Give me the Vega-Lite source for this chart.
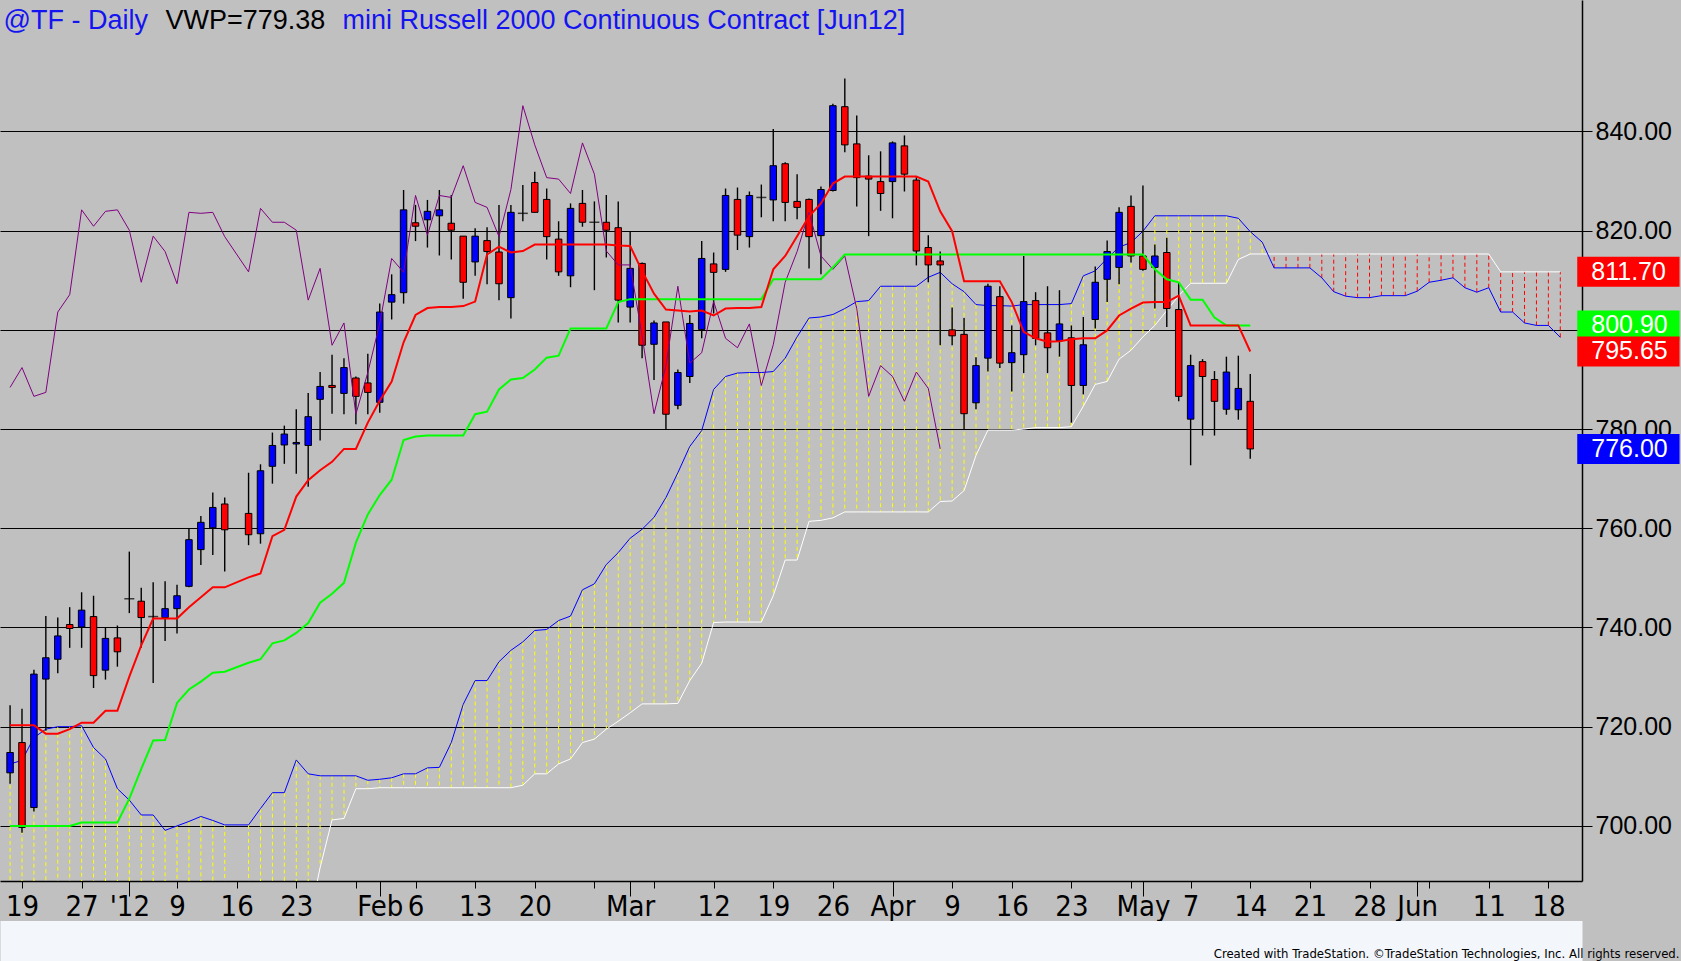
{
  "$schema": "https://vega.github.io/schema/vega-lite/v6.json",
  "width": 1582,
  "height": 881,
  "autosize": "none",
  "padding": {"left": 0, "top": 0, "right": 99, "bottom": 80},
  "background": "#C0C0C0",
  "config": {"view": {"stroke": null, "fill": "#C0C0C0"}, "font": "Liberation Sans"},
  "data": {
    "values": [
      {"i": -1, "o": 710.7, "h": 724.3, "l": 708.5, "c": 714.8, "tk": 720.3, "kj": 700.0, "ch": 788.4, "sa": 712.5, "sb": 680},
      {"i": 0, "o": 716.8, "h": 723.6, "l": 698.6, "c": 699.7, "tk": 720.3, "kj": 700.0, "ch": 792.4, "sa": 713.2, "sb": 680},
      {"i": 1, "o": 703.7, "h": 731.5, "l": 702.9, "c": 730.6, "tk": 720.3, "kj": 700.0, "ch": 786.6, "sa": 717.8, "sb": 680},
      {"i": 2, "o": 729.6, "h": 742.3, "l": 719.2, "c": 733.9, "tk": 718.6, "kj": 700.0, "ch": 787.4, "sa": 719.5, "sb": 680},
      {"i": 3, "o": 733.6, "h": 742.0, "l": 730.8, "c": 738.3, "tk": 718.6, "kj": 700.0, "ch": 803.6, "sa": 720.0, "sb": 680},
      {"i": 4, "o": 740.6, "h": 744.1, "l": 735.9, "c": 739.8, "tk": 719.5, "kj": 700.0, "ch": 807.1, "sa": 720.0, "sb": 680},
      {"i": 5, "o": 740.1, "h": 747.1, "l": 735.9, "c": 743.5, "tk": 720.8, "kj": 700.7, "ch": 824.2, "sa": 720.2, "sb": 680},
      {"i": 6, "o": 742.2, "h": 746.4, "l": 727.8, "c": 730.3, "tk": 720.8, "kj": 700.7, "ch": 820.9, "sa": 715.8, "sb": 680},
      {"i": 7, "o": 731.4, "h": 740.0, "l": 729.5, "c": 737.8, "tk": 723.2, "kj": 700.7, "ch": 823.9, "sa": 713.5, "sb": 680},
      {"i": 8, "o": 737.9, "h": 740.4, "l": 732.1, "c": 735.1, "tk": 723.2, "kj": 700.7, "ch": 824.2, "sa": 707.5, "sb": 680},
      {"i": 9, "o": 745.8, "h": 755.3, "l": 742.9, "c": 745.8, "tk": 730.1, "kj": 705.5, "ch": 820.1, "sa": 705.2, "sb": 680},
      {"i": 10, "o": 745.3, "h": 748.0, "l": 735.9, "c": 742.0, "tk": 736.4, "kj": 711.5, "ch": 809.6, "sa": 702.2, "sb": 680},
      {"i": 11, "o": 742.2, "h": 749.1, "l": 728.8, "c": 742.2, "tk": 741.8, "kj": 717.2, "ch": 818.9, "sa": 702.2, "sb": 680},
      {"i": 12, "o": 742.0, "h": 749.3, "l": 737.3, "c": 743.8, "tk": 741.8, "kj": 717.3, "ch": 815.8, "sa": 699.1, "sb": 680},
      {"i": 13, "o": 743.8, "h": 748.6, "l": 738.8, "c": 746.4, "tk": 741.8, "kj": 724.8, "ch": 809.3, "sa": 700.0, "sb": 680},
      {"i": 14, "o": 748.3, "h": 760.0, "l": 748.1, "c": 757.7, "tk": 744.1, "kj": 727.5, "ch": 823.7, "sa": 700.9, "sb": 680},
      {"i": 15, "o": 755.7, "h": 762.5, "l": 752.6, "c": 761.2, "tk": 746.1, "kj": 729.1, "ch": 823.5, "sa": 701.9, "sb": 680},
      {"i": 16, "o": 760.1, "h": 767.2, "l": 754.6, "c": 764.2, "tk": 748.1, "kj": 730.9, "ch": 823.7, "sa": 701.1, "sb": 680},
      {"i": 17, "o": 764.9, "h": 766.2, "l": 751.3, "c": 759.7, "tk": 748.1, "kj": 731.1, "ch": 818.8, "sa": 700.2, "sb": 680},
      {"i": 19, "o": 763.0, "h": 771.2, "l": 756.6, "c": 758.7, "tk": 750.1, "kj": 732.9, "ch": 811.7, "sa": 700.2, "sb": 680},
      {"i": 20, "o": 758.9, "h": 772.9, "l": 756.9, "c": 771.6, "tk": 750.9, "kj": 733.6, "ch": 824.5, "sa": 703.5, "sb": 680},
      {"i": 21, "o": 772.5, "h": 779.3, "l": 769.0, "c": 776.7, "tk": 758.4, "kj": 736.8, "ch": 821.7, "sa": 706.7, "sb": 680},
      {"i": 22, "o": 776.8, "h": 780.7, "l": 773.0, "c": 779.0, "tk": 759.7, "kj": 737.4, "ch": 821.7, "sa": 706.7, "sb": 680},
      {"i": 23, "o": 777.0, "h": 784.0, "l": 771.0, "c": 777.3, "tk": 766.4, "kj": 738.9, "ch": 820.1, "sa": 713.3, "sb": 680},
      {"i": 24, "o": 776.7, "h": 787.3, "l": 768.4, "c": 782.5, "tk": 769.7, "kj": 740.9, "ch": 806.0, "sa": 710.5, "sb": 680},
      {"i": 25, "o": 786.0, "h": 791.5, "l": 777.7, "c": 788.6, "tk": 771.7, "kj": 745.0, "ch": 812.4, "sa": 710.1, "sb": 691.6},
      {"i": 26, "o": 788.8, "h": 795.0, "l": 783.1, "c": 788.4, "tk": 773.4, "kj": 746.8, "ch": 796.9, "sa": 710.1, "sb": 701.2},
      {"i": 27, "o": 787.2, "h": 794.3, "l": 783.0, "c": 792.4, "tk": 776.0, "kj": 749.0, "ch": 801.4, "sa": 710.1, "sb": 701.5},
      {"i": 28, "o": 790.3, "h": 790.6, "l": 781.0, "c": 786.6, "tk": 776.0, "kj": 757.1, "ch": 783.0, "sa": 710.1, "sb": 707.5},
      {"i": 29, "o": 789.3, "h": 795.2, "l": 783.0, "c": 787.4, "tk": 781.3, "kj": 762.8, "ch": 791.4, "sa": 709.2, "sb": 707.5},
      {"i": 30, "o": 785.4, "h": 805.3, "l": 783.3, "c": 803.6, "tk": 785.7, "kj": 766.7, "ch": 801.3, "sa": 709.4, "sb": 707.7},
      {"i": 31, "o": 805.6, "h": 811.2, "l": 802.1, "c": 807.1, "tk": 789.6, "kj": 769.8, "ch": 814.4, "sa": 709.7, "sb": 707.7},
      {"i": 32, "o": 807.5, "h": 828.2, "l": 805.3, "c": 824.2, "tk": 797.5, "kj": 777.8, "ch": 811.6, "sa": 710.5, "sb": 707.7},
      {"i": 33, "o": 821.6, "h": 825.2, "l": 817.9, "c": 820.9, "tk": 803.0, "kj": 778.5, "ch": 827.1, "sa": 710.5, "sb": 707.7},
      {"i": 34, "o": 822.2, "h": 826.2, "l": 816.6, "c": 823.9, "tk": 804.4, "kj": 778.7, "ch": 819.1, "sa": 711.7, "sb": 707.7},
      {"i": 35, "o": 823.0, "h": 828.2, "l": 815.0, "c": 824.2, "tk": 804.6, "kj": 778.7, "ch": 827.1, "sa": 711.8, "sb": 707.7},
      {"i": 36, "o": 821.5, "h": 827.2, "l": 814.2, "c": 820.1, "tk": 804.6, "kj": 778.7, "ch": 826.7, "sa": 716.8, "sb": 707.7},
      {"i": 37, "o": 818.9, "h": 818.9, "l": 806.3, "c": 809.6, "tk": 804.8, "kj": 778.7, "ch": 833.1, "sa": 724.5, "sb": 707.7},
      {"i": 38, "o": 813.7, "h": 820.5, "l": 810.9, "c": 818.9, "tk": 805.7, "kj": 783.0, "ch": 825.7, "sa": 729.3, "sb": 707.7},
      {"i": 39, "o": 818.0, "h": 820.7, "l": 809.2, "c": 815.8, "tk": 815.2, "kj": 783.5, "ch": 824.7, "sa": 729.3, "sb": 707.7},
      {"i": 40, "o": 815.7, "h": 825.2, "l": 806.0, "c": 809.3, "tk": 816.8, "kj": 788.0, "ch": 818.8, "sa": 733.1, "sb": 707.7},
      {"i": 41, "o": 806.5, "h": 825.2, "l": 802.3, "c": 823.7, "tk": 815.6, "kj": 790.0, "ch": 828.3, "sa": 735.4, "sb": 707.7},
      {"i": 42, "o": 823.5, "h": 829.2, "l": 821.9, "c": 823.5, "tk": 815.9, "kj": 790.3, "ch": 845.2, "sa": 737.1, "sb": 708.2},
      {"i": 43, "o": 829.7, "h": 831.9, "l": 823.7, "c": 823.7, "tk": 817.2, "kj": 792.0, "ch": 837.3, "sa": 739.4, "sb": 710.5},
      {"i": 44, "o": 826.3, "h": 828.5, "l": 814.2, "c": 818.8, "tk": 817.2, "kj": 794.4, "ch": 830.7, "sa": 739.6, "sb": 710.5},
      {"i": 45, "o": 818.3, "h": 821.9, "l": 810.9, "c": 811.7, "tk": 817.2, "kj": 794.8, "ch": 830.4, "sa": 741.4, "sb": 712.5},
      {"i": 46, "o": 810.9, "h": 825.5, "l": 808.6, "c": 824.5, "tk": 817.2, "kj": 800.3, "ch": 827.5, "sa": 742.3, "sb": 713.5},
      {"i": 47, "o": 825.5, "h": 828.2, "l": 820.8, "c": 821.7, "tk": 817.2, "kj": 800.3, "ch": 837.7, "sa": 747.6, "sb": 716.8},
      {"i": 48, "o": 821.7, "h": 825.9, "l": 808.0, "c": 821.7, "tk": 817.2, "kj": 800.3, "ch": 831.4, "sa": 748.8, "sb": 717.5},
      {"i": 49, "o": 821.7, "h": 827.2, "l": 814.6, "c": 820.1, "tk": 817.2, "kj": 800.3, "ch": 815.9, "sa": 752.7, "sb": 719.5},
      {"i": 50, "o": 820.6, "h": 825.9, "l": 801.5, "c": 806.0, "tk": 817.0, "kj": 805.6, "ch": 813.1, "sa": 755.1, "sb": 721.1},
      {"i": 51, "o": 804.6, "h": 819.9, "l": 801.5, "c": 812.4, "tk": 816.9, "kj": 806.2, "ch": 813.1, "sa": 758.0, "sb": 722.8},
      {"i": 52, "o": 813.4, "h": 813.6, "l": 794.3, "c": 796.9, "tk": 811.9, "kj": 806.2, "ch": 798.8, "sa": 759.8, "sb": 724.6},
      {"i": 53, "o": 797.1, "h": 801.9, "l": 789.9, "c": 801.4, "tk": 807.3, "kj": 806.2, "ch": 783.1, "sa": 762.2, "sb": 724.6},
      {"i": 54, "o": 801.6, "h": 801.6, "l": 780.0, "c": 783.0, "tk": 804.1, "kj": 806.2, "ch": 792.8, "sa": 766.2, "sb": 724.6},
      {"i": 55, "o": 784.8, "h": 792.0, "l": 784.0, "c": 791.4, "tk": 803.9, "kj": 806.2, "ch": 808.8, "sa": 771.2, "sb": 724.7},
      {"i": 56, "o": 790.6, "h": 803.0, "l": 789.3, "c": 801.3, "tk": 803.7, "kj": 806.2, "ch": 793.3, "sa": 776.5, "sb": 729.3},
      {"i": 57, "o": 800.1, "h": 817.9, "l": 798.3, "c": 814.4, "tk": 803.9, "kj": 806.2, "ch": 795.4, "sa": 779.7, "sb": 732.8},
      {"i": 58, "o": 813.3, "h": 815.6, "l": 803.3, "c": 811.6, "tk": 802.9, "kj": 806.2, "ch": 805.7, "sa": 788.0, "sb": 741.0},
      {"i": 59, "o": 812.2, "h": 828.5, "l": 811.7, "c": 827.1, "tk": 804.3, "kj": 806.2, "ch": 798.3, "sa": 790.6, "sb": 741.1},
      {"i": 60, "o": 826.3, "h": 828.7, "l": 816.1, "c": 819.1, "tk": 804.4, "kj": 806.2, "ch": 796.4, "sa": 791.3, "sb": 741.1},
      {"i": 61, "o": 818.8, "h": 827.9, "l": 816.6, "c": 827.1, "tk": 804.4, "kj": 806.2, "ch": 801.2, "sa": 791.4, "sb": 741.1},
      {"i": 62, "o": 826.7, "h": 829.3, "l": 822.7, "c": 826.7, "tk": 804.6, "kj": 806.2, "ch": 788.8, "sa": 791.4, "sb": 741.1},
      {"i": 63, "o": 826.2, "h": 840.5, "l": 821.9, "c": 833.1, "tk": 812.2, "kj": 810.2, "ch": 797.0, "sa": 791.6, "sb": 746.4},
      {"i": 64, "o": 833.5, "h": 833.8, "l": 821.9, "c": 825.7, "tk": 814.9, "kj": 810.2, "ch": 809.6, "sa": 794.3, "sb": 753.6},
      {"i": 65, "o": 825.9, "h": 831.4, "l": 822.3, "c": 824.7, "tk": 818.9, "kj": 810.2, "ch": 815.8, "sa": 798.6, "sb": 753.6},
      {"i": 66, "o": 826.3, "h": 826.5, "l": 812.4, "c": 818.8, "tk": 822.9, "kj": 810.2, "ch": 823.7, "sa": 802.4, "sb": 761.4},
      {"i": 67, "o": 819.0, "h": 828.9, "l": 811.2, "c": 828.3, "tk": 825.5, "kj": 810.2, "ch": 814.9, "sa": 802.6, "sb": 761.6},
      {"i": 68, "o": 828.1, "h": 845.6, "l": 827.9, "c": 845.2, "tk": 829.5, "kj": 812.6, "ch": 812.2, "sa": 803.1, "sb": 762.1},
      {"i": 69, "o": 845.0, "h": 850.7, "l": 835.8, "c": 837.3, "tk": 830.9, "kj": 815.2, "ch": 814.9, "sa": 804.3, "sb": 763.3},
      {"i": 70, "o": 837.5, "h": 843.2, "l": 824.9, "c": 830.7, "tk": 830.9, "kj": 815.2, "ch": 804.3, "sa": 805.7, "sb": 763.3},
      {"i": 71, "o": 831.0, "h": 835.2, "l": 818.9, "c": 830.4, "tk": 830.9, "kj": 815.2, "ch": 786.6, "sa": 805.9, "sb": 763.3},
      {"i": 72, "o": 829.9, "h": 836.0, "l": 824.0, "c": 827.5, "tk": 830.9, "kj": 815.2, "ch": 792.8, "sa": 808.8, "sb": 763.3},
      {"i": 73, "o": 829.9, "h": 838.0, "l": 822.5, "c": 837.7, "tk": 830.9, "kj": 815.2, "ch": 790.6, "sa": 808.8, "sb": 763.3},
      {"i": 74, "o": 837.1, "h": 839.2, "l": 827.9, "c": 831.4, "tk": 830.9, "kj": 815.2, "ch": 785.6, "sa": 808.8, "sb": 763.3},
      {"i": 75, "o": 830.2, "h": 830.9, "l": 813.0, "c": 815.9, "tk": 830.9, "kj": 815.2, "ch": 791.5, "sa": 808.8, "sb": 763.3},
      {"i": 76, "o": 816.6, "h": 819.1, "l": 809.6, "c": 813.1, "tk": 829.9, "kj": 815.2, "ch": 788.2, "sa": 810.6, "sb": 763.3},
      {"i": 77, "o": 813.9, "h": 815.8, "l": 796.9, "c": 813.1, "tk": 823.9, "kj": 815.2, "ch": 776.0, "sa": 811.6, "sb": 765.4},
      {"i": 78, "o": 800.0, "h": 804.5, "l": 796.9, "c": 798.8, "tk": 819.9, "kj": 815.2, "sa": 809.3, "sb": 765.5},
      {"i": 79, "o": 799.1, "h": 802.4, "l": 780.0, "c": 783.1, "tk": 809.8, "kj": 815.2, "sa": 807.7, "sb": 767.6},
      {"i": 80, "o": 785.3, "h": 794.5, "l": 784.0, "c": 792.8, "tk": 809.8, "kj": 815.2, "sa": 805.1, "sb": 774.7},
      {"i": 81, "o": 794.3, "h": 809.3, "l": 791.6, "c": 808.8, "tk": 809.8, "kj": 815.2, "sa": 804.9, "sb": 779.8},
      {"i": 82, "o": 806.7, "h": 808.8, "l": 792.3, "c": 793.3, "tk": 809.8, "kj": 815.2, "sa": 804.9, "sb": 779.8},
      {"i": 83, "o": 793.4, "h": 800.9, "l": 787.6, "c": 795.4, "tk": 805.6, "kj": 815.2, "sa": 804.8, "sb": 779.8},
      {"i": 84, "o": 795.0, "h": 814.9, "l": 791.3, "c": 805.7, "tk": 799.6, "kj": 815.2, "sa": 805.1, "sb": 780.0},
      {"i": 85, "o": 805.9, "h": 807.6, "l": 796.9, "c": 798.3, "tk": 798.3, "kj": 815.2, "sa": 805.1, "sb": 780.3},
      {"i": 86, "o": 799.4, "h": 808.8, "l": 791.3, "c": 796.4, "tk": 797.6, "kj": 815.2, "sa": 805.1, "sb": 780.3},
      {"i": 87, "o": 797.8, "h": 808.0, "l": 794.6, "c": 801.2, "tk": 797.7, "kj": 815.2, "sa": 805.1, "sb": 780.3},
      {"i": 88, "o": 798.4, "h": 800.9, "l": 781.3, "c": 788.8, "tk": 798.1, "kj": 815.2, "sa": 805.3, "sb": 780.5},
      {"i": 89, "o": 788.8, "h": 802.6, "l": 787.0, "c": 797.0, "tk": 798.3, "kj": 815.2, "sa": 810.9, "sb": 784.6},
      {"i": 90, "o": 802.1, "h": 812.8, "l": 800.3, "c": 809.6, "tk": 798.3, "kj": 815.2, "sa": 811.9, "sb": 789.0},
      {"i": 91, "o": 810.2, "h": 818.0, "l": 805.6, "c": 815.8, "tk": 799.9, "kj": 815.2, "sa": 814.4, "sb": 789.6},
      {"i": 92, "o": 812.6, "h": 824.7, "l": 809.2, "c": 823.7, "tk": 802.9, "kj": 815.2, "sa": 816.7, "sb": 794.1},
      {"i": 93, "o": 824.9, "h": 827.1, "l": 813.6, "c": 814.9, "tk": 804.3, "kj": 815.2, "sa": 817.6, "sb": 795.9},
      {"i": 94, "o": 814.9, "h": 829.1, "l": 811.9, "c": 812.2, "tk": 805.5, "kj": 815.2, "sa": 819.9, "sb": 798.6},
      {"i": 95, "o": 812.6, "h": 817.2, "l": 804.3, "c": 814.9, "tk": 805.6, "kj": 812.2, "sa": 823.0, "sb": 800.9},
      {"i": 96, "o": 815.6, "h": 818.6, "l": 800.6, "c": 804.3, "tk": 805.6, "kj": 810.2, "sa": 823.0, "sb": 803.9},
      {"i": 97, "o": 804.1, "h": 809.6, "l": 785.6, "c": 786.6, "tk": 806.9, "kj": 809.6, "sa": 823.0, "sb": 806.9},
      {"i": 98, "o": 782.0, "h": 795.0, "l": 772.7, "c": 792.8, "tk": 800.9, "kj": 806.1, "sa": 823.0, "sb": 809.4},
      {"i": 99, "o": 793.6, "h": 794.1, "l": 778.7, "c": 790.6, "tk": 800.9, "kj": 806.1, "sa": 823.0, "sb": 809.4},
      {"i": 100, "o": 790.0, "h": 791.7, "l": 778.7, "c": 785.6, "tk": 800.9, "kj": 802.5, "sa": 823.0, "sb": 809.4},
      {"i": 101, "o": 784.0, "h": 794.6, "l": 782.9, "c": 791.5, "tk": 800.9, "kj": 800.9, "sa": 823.0, "sb": 809.4},
      {"i": 102, "o": 783.9, "h": 794.8, "l": 781.9, "c": 788.2, "tk": 800.9, "kj": 800.9, "sa": 822.5, "sb": 814.2},
      {"i": 103, "o": 785.6, "h": 791.1, "l": 774.0, "c": 776.0, "tk": 795.65, "kj": 800.9, "sa": 819.8, "sb": 815.3},
      {"i": 104, "sa": 817.7, "sb": 815.3},
      {"i": 105, "sa": 812.5, "sb": 815.3},
      {"i": 106, "sa": 812.5, "sb": 815.3},
      {"i": 107, "sa": 812.5, "sb": 815.3},
      {"i": 108, "sa": 812.5, "sb": 815.3},
      {"i": 109, "sa": 810.5, "sb": 815.3},
      {"i": 110, "sa": 807.7, "sb": 815.3},
      {"i": 111, "sa": 806.8, "sb": 815.3},
      {"i": 112, "sa": 806.5, "sb": 815.3},
      {"i": 113, "sa": 806.5, "sb": 815.3},
      {"i": 114, "sa": 806.9, "sb": 815.3},
      {"i": 115, "sa": 806.9, "sb": 815.3},
      {"i": 116, "sa": 806.9, "sb": 815.3},
      {"i": 117, "sa": 807.8, "sb": 815.3},
      {"i": 118, "sa": 809.6, "sb": 815.3},
      {"i": 119, "sa": 810.0, "sb": 815.3},
      {"i": 120, "sa": 810.5, "sb": 815.3},
      {"i": 121, "sa": 808.5, "sb": 815.3},
      {"i": 122, "sa": 807.6, "sb": 815.3},
      {"i": 123, "sa": 808.5, "sb": 815.3},
      {"i": 124, "sa": 803.6, "sb": 811.7},
      {"i": 125, "sa": 803.6, "sb": 811.7},
      {"i": 126, "sa": 801.4, "sb": 811.7},
      {"i": 127, "sa": 800.9, "sb": 811.7},
      {"i": 128, "sa": 800.9, "sb": 811.7},
      {"i": 129, "sa": 798.5, "sb": 811.7}
    ]
  },
  "resolve": {"axis": {"x": "independent", "y": "independent"}},
  "layer": [
    {
      "mark": {"type": "rule", "strokeWidth": 1, "strokeDash": [4, 3], "clip": true},
      "encoding": {
        "x": {"field": "i", "type": "quantitative", "scale": {"domain": [-1.425, 130.4], "nice": false, "zero": false}, "axis": null},
        "y": {"field": "sa", "type": "quantitative", "scale": {"domain": [689.9, 865.5], "nice": false, "zero": false},
          "axis": {"orient": "right", "values": [700, 720, 740, 760, 780, 800, 820, 840], "format": ".2f", "grid": true, "gridColor": "#000000", "gridWidth": 1, "gridOpacity": 1, "domainColor": "#000000", "domainWidth": 1.5, "tickColor": "#000000", "tickSize": 10, "tickWidth": 1, "labelFont": "Liberation Sans", "labelFontSize": 25, "labelColor": "#000000", "labelPadding": 3, "labelBaseline": "middle", "labelAlign": "left", "title": null}},
        "y2": {"field": "sb"},
        "color": {"condition": {"test": "datum.sa >= datum.sb", "value": "#FFFF00"}, "value": "#FF0000"}
      }
    },
    {
      "transform": [{"filter": "isValid(datum.sb)"}],
      "mark": {"type": "line", "strokeWidth": 1, "color": "#FFFFFF", "clip": true},
      "encoding": {
        "x": {"field": "i", "type": "quantitative",
          "axis": {"orient": "top", "domain": false, "ticks": false, "labels": false, "grid": false, "title": "VWP=779.38", "titleX": 165, "titleY": 28, "titleAlign": "left", "titleAnchor": null, "titleBaseline": "alphabetic", "titleFont": "Liberation Sans", "titleFontSize": 27, "titleFontWeight": "normal", "titleColor": "#000000"}},
        "y": {"field": "sb", "type": "quantitative", "axis": null}
      }
    },
    {
      "transform": [{"filter": "isValid(datum.sa)"}],
      "mark": {"type": "line", "strokeWidth": 1, "color": "#0000FF", "clip": true},
      "encoding": {
        "x": {"field": "i", "type": "quantitative",
          "axis": {"orient": "top", "domain": false, "ticks": false, "labels": false, "grid": false, "title": "@TF - Daily", "titleX": 3, "titleY": 28, "titleAlign": "left", "titleAnchor": null, "titleBaseline": "alphabetic", "titleFont": "Liberation Sans", "titleFontSize": 27, "titleFontWeight": "normal", "titleColor": "#1414F0"}},
        "y": {"field": "sa", "type": "quantitative", "axis": null}
      }
    },
    {
      "transform": [{"filter": "isValid(datum.h)"}],
      "mark": {"type": "rule", "strokeWidth": 1.4, "color": "#000000", "clip": true},
      "encoding": {
        "x": {"field": "i", "type": "quantitative",
          "axis": {"orient": "bottom", "values": [0, 5, 9, 13, 18, 23, 28, 30, 33, 38, 43, 48, 51, 53, 58, 63, 68, 73, 78, 83, 88, 93, 94, 98, 103, 108, 113, 117, 118, 123, 128],
            "labelExpr": "['19','27',\"'12\",'9','16','23','','Feb','6','13','20','','Mar','','12','19','26','Apr','9','16','23','','May','7','14','21','28','Jun','','11','18'][indexof([0,5,9,13,18,23,28,30,33,38,43,48,51,53,58,63,68,73,78,83,88,93,94,98,103,108,113,117,118,123,128], datum.value)]",
            "tickSize": 7, "tickColor": "#000000", "tickWidth": 1, "domainColor": "#000000", "domainWidth": 1.5, "labelFont": "DejaVu Sans Condensed, sans-serif", "labelFontSize": 29, "labelColor": "#000000", "labelPadding": 4, "labelOverlap": false, "labelFlush": false, "grid": false, "title": null}},
        "y": {"field": "l", "type": "quantitative", "axis": null},
        "y2": {"field": "h"}
      }
    },
    {
      "transform": [{"filter": "isValid(datum.o) && datum.o != datum.c"}],
      "mark": {"type": "bar", "stroke": "#000000", "strokeWidth": 1, "clip": true},
      "encoding": {
        "x": {"field": "i", "type": "quantitative",
          "axis": {"orient": "bottom", "values": [9, 30, 51, 73, 94, 117], "tickSize": 15, "tickColor": "#000000", "tickWidth": 1, "labels": false, "domain": false, "grid": false, "title": null}},
        "y": {"field": "o", "type": "quantitative", "axis": null},
        "y2": {"field": "c"},
        "size": {"value": 6.5},
        "color": {"condition": {"test": "datum.c > datum.o", "value": "#0000FF"}, "value": "#FF0000"}
      }
    },
    {
      "transform": [{"filter": "isValid(datum.o) && datum.o == datum.c"}],
      "mark": {"type": "tick", "orient": "horizontal", "thickness": 1.5, "color": "#000000", "clip": true},
      "encoding": {
        "x": {"field": "i", "type": "quantitative",
          "axis": {"orient": "bottom", "offset": 60, "values": [], "ticks": false, "labels": false, "grid": false, "domainWidth": 41, "domainColor": "#F3F6FB", "domainCap": "butt",
            "title": "Created with TradeStation. ©TradeStation Technologies, Inc. All rights reserved.", "titleX": 1679, "titleY": 16, "titleAlign": "right", "titleAnchor": null, "titleBaseline": "alphabetic", "titleFont": "DejaVu Sans Condensed, sans-serif", "titleFontSize": 13, "titleFontWeight": "normal", "titleColor": "#000000"}},
        "y": {"field": "o", "type": "quantitative", "axis": null},
        "size": {"value": 10}
      }
    },
    {
      "transform": [{"filter": "isValid(datum.ch)"}],
      "mark": {"type": "line", "strokeWidth": 1, "color": "#800080", "clip": true},
      "encoding": {
        "x": {"field": "i", "type": "quantitative", "axis": null},
        "y": {"field": "ch", "type": "quantitative", "axis": null}
      }
    },
    {
      "transform": [{"filter": "isValid(datum.kj)"}],
      "mark": {"type": "line", "strokeWidth": 2, "color": "#00FF00", "clip": true},
      "encoding": {
        "x": {"field": "i", "type": "quantitative", "axis": null},
        "y": {"field": "kj", "type": "quantitative", "axis": null}
      }
    },
    {
      "transform": [{"filter": "isValid(datum.tk)"}],
      "mark": {"type": "line", "strokeWidth": 2, "color": "#FF0000", "clip": true},
      "encoding": {
        "x": {"field": "i", "type": "quantitative",
          "axis": {"orient": "top", "domain": false, "ticks": false, "labels": false, "grid": false, "title": "mini Russell 2000 Continuous Contract [Jun12]", "titleX": 342, "titleY": 28, "titleAlign": "left", "titleAnchor": null, "titleBaseline": "alphabetic", "titleFont": "Liberation Sans", "titleFontSize": 27, "titleFontWeight": "normal", "titleColor": "#1414F0"}},
        "y": {"field": "tk", "type": "quantitative", "axis": null}
      }
    },
    {
      "data": {"values": [
        {"v": 811.7, "line": "Senkou B"},
        {"v": 800.9, "line": "Kijun"},
        {"v": 795.65, "line": "Tenkan"},
        {"v": 776.0, "line": "Close"}
      ]},
      "mark": {"type": "bar", "orient": "horizontal", "clip": false},
      "encoding": {
        "x": {"datum": 130.42, "type": "quantitative", "axis": null},
        "x2": {"datum": 139},
        "y": {"field": "v", "type": "quantitative", "axis": null},
        "size": {"value": 30},
        "color": {"field": "line", "type": "nominal", "legend": null,
          "scale": {"domain": ["Senkou B", "Kijun", "Tenkan", "Close"], "range": ["#FF0000", "#00FF00", "#FF0000", "#0000FF"]}}
      }
    },
    {
      "data": {"values": [
        {"v": 811.7, "line": "Senkou B"},
        {"v": 800.9, "line": "Kijun"},
        {"v": 795.65, "line": "Tenkan"},
        {"v": 776.0, "line": "Close"}
      ]},
      "mark": {"type": "text", "align": "left", "baseline": "middle", "font": "Liberation Sans", "fontSize": 25, "color": "#FFFFFF", "clip": false},
      "encoding": {
        "x": {"datum": 131.6, "type": "quantitative", "axis": null},
        "y": {"field": "v", "type": "quantitative", "axis": null},
        "text": {"field": "v", "type": "quantitative", "format": ".2f"}
      }
    }
  ]
}
